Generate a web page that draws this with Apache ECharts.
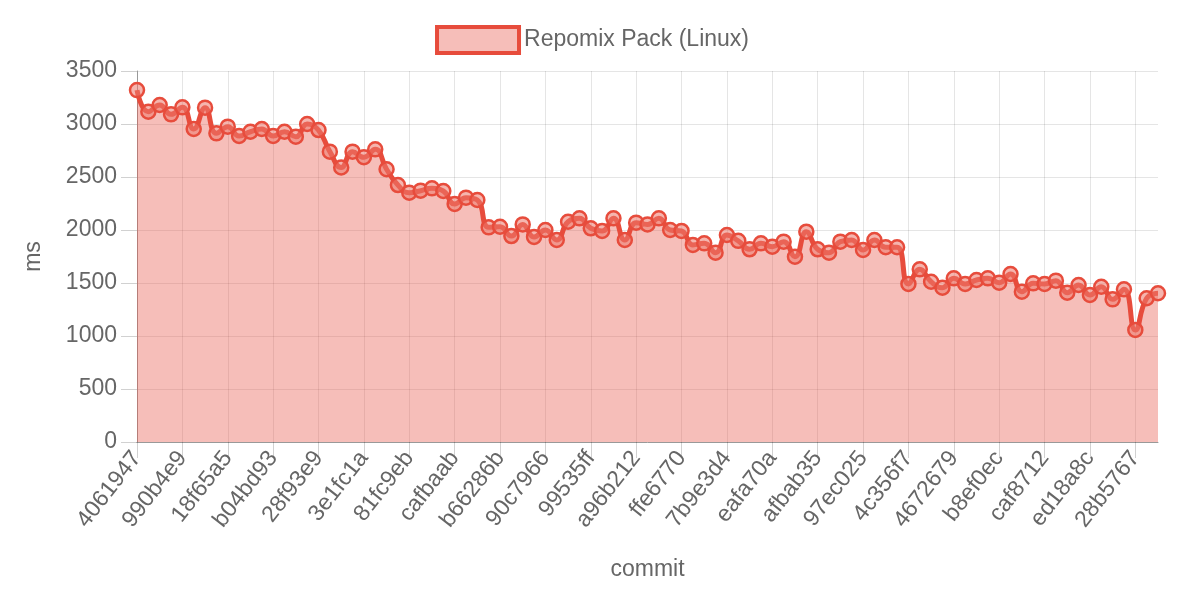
<!DOCTYPE html>
<html>
<head>
<meta charset="utf-8">
<script src="https://cdn.jsdelivr.net/npm/echarts@6/dist/echarts.min.js"></script>
<style>
  html, body { margin: 0; padding: 0; background: #fff; }
  #chart { width: 1184px; height: 596px; }
</style>
</head>
<body>
<div id="chart"></div>
<script>
// commit labels shown on the axis (every 4th commit)
var shownCommits = ['4061947', '990b4e9', '18f65a5', 'b04bd93', '28f93e9', '3e1fc1a', '81fc9eb',
    'cafbaab', 'b66286b', '90c7966', '99535ff', 'a96b212', 'ffe6770', '7b9e3d4', 'eafa70a',
    'afbab35', '97ec025', '4c356f7', '4672679', 'b8ef0ec', 'caf8712', 'ed18a8c', '28b5767'];

// pack time in ms, one value per commit
var packTimes = [3320, 3116, 3179, 3091, 3157, 2953, 3154, 2912, 2975, 2887,
    2927, 2953, 2887, 2927, 2880, 3000, 2943, 2739, 2590, 2739,
    2686, 2761, 2573, 2424, 2352, 2371, 2393, 2368, 2245, 2305,
    2283, 2025, 2031, 1943, 2053, 1935, 2000, 1906, 2078, 2110,
    2016, 1991, 2110, 1906, 2069, 2053, 2110, 2000, 1991, 1859,
    1874, 1786, 1953, 1898, 1818, 1874, 1843, 1890, 1748, 1984,
    1818, 1786, 1890, 1906, 1811, 1906, 1837, 1837, 1491, 1629,
    1512, 1455, 1544, 1491, 1528, 1544, 1503, 1585, 1418, 1497,
    1491, 1522, 1409, 1481, 1387, 1465, 1346, 1440, 1057, 1356,
    1403];

var seriesName = 'Repomix Pack (Linux)';
var yTicks = { min: 0, max: 3500, step: 500 };

var categories = packTimes.map(function (v, i) {
    return i % 4 === 0 ? shownCommits[i / 4] : '';
});

var font = '"Liberation Sans", Helvetica, Arial, sans-serif';
var red = '#e74c3c';
var gridColor = 'rgba(0,0,0,0.1)';

var myChart = echarts.init(document.getElementById('chart'));
var option = {
    animation: false,
    textStyle: { fontFamily: font, color: '#666' },
    legend: {
        top: 20,
        left: 'center',
        icon: 'rect',
        itemWidth: 82,
        itemHeight: 26,
        itemGap: 10,
        textStyle: { fontSize: 23, color: '#666', fontFamily: font },
        data: [{
            name: seriesName,
            itemStyle: { color: 'rgba(231,76,60,0.36)', borderColor: red, borderWidth: 4 }
        }]
    },
    grid: { left: 137, right: 26, top: 71, bottom: 154 },
    xAxis: {
        type: 'category',
        boundaryGap: false,
        data: categories,
        name: 'commit',
        nameLocation: 'middle',
        nameGap: 116,
        nameTextStyle: { fontSize: 23, color: '#666', fontFamily: font },
        axisLine: { lineStyle: { color: '#999' } },
        axisTick: { show: true, interval: 3, length: 16, lineStyle: { color: 'rgba(0,0,0,0.18)' } },
        axisLabel: { interval: 3, rotate: 52, margin: 12, fontSize: 23, color: '#666', fontFamily: font },
        splitLine: { show: true, interval: 3, lineStyle: { color: gridColor, width: 1 } }
    },
    yAxis: {
        type: 'value',
        min: yTicks.min,
        max: yTicks.max,
        interval: yTicks.step,
        name: 'ms',
        nameLocation: 'middle',
        nameGap: 92,
        nameTextStyle: { fontSize: 23, color: '#666', fontFamily: font },
        axisLine: { show: true, lineStyle: { color: '#999' } },
        axisTick: { show: true, length: 16, lineStyle: { color: 'rgba(0,0,0,0.18)' } },
        axisLabel: {
            margin: 20, fontSize: 23, color: '#666', fontFamily: font,
            formatter: function (v) { return String(v); }
        },
        splitLine: { show: true, lineStyle: { color: gridColor, width: 1 } }
    },
    series: [{
        name: seriesName,
        type: 'line',
        data: packTimes,
        smooth: 0.5,
        symbol: 'circle',
        symbolSize: 14,
        showAllSymbol: true,
        lineStyle: { color: red, width: 5 },
        itemStyle: { color: 'rgba(236,120,108,0.55)', borderColor: red, borderWidth: 2.5 },
        areaStyle: { color: 'rgba(231,76,60,0.36)', opacity: 1 }
    }]
};
myChart.setOption(option);
</script>
</body>
</html>
